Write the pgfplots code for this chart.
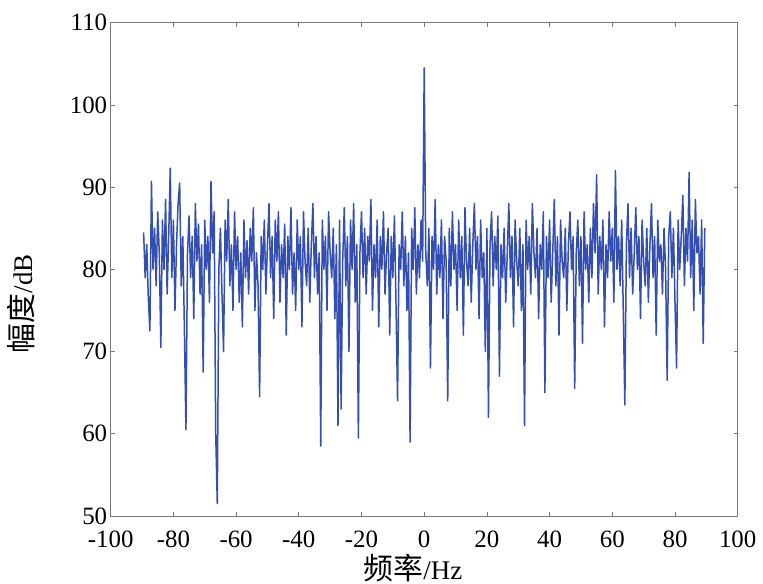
\documentclass[border=0pt]{standalone}
\usepackage{pgfplots}
\pgfplotsset{compat=1.18}
\usepackage{fontspec}
\setmainfont{Liberation Serif}
\newfontfamily\cjk{Noto Sans CJK SC}
\definecolor{lineblue}{RGB}{52,78,178}
\definecolor{framegray}{RGB}{120,120,120}
\begin{document}
\begin{tikzpicture}
\useasboundingbox (-110.7bp,-68bp) rectangle (652.3bp,516bp);
\begin{axis}[
  at={(0,0)}, anchor=south west,
  scale only axis, width=627bp, height=493.3bp,
  xmin=-100, xmax=100, ymin=50, ymax=110,
  xtick={-100,-80,-60,-40,-20,0,20,40,60,80,100},
  xticklabels={-100,-80,-60,-40,-20,0,20,40,60,80,100},
  ytick={50,60,70,80,90,100,110},
  yticklabels={50,60,70,80,90,100,110},
  tick align=inside, major tick length=4bp,
  axis line style={framegray, line width=0.8bp},
  every tick/.style={framegray, line width=0.8bp},
  tick label style={font=\fontsize{25}{25}\selectfont, text=black},
  xticklabel style={yshift=-11bp},
  xlabel={{\fontsize{30}{30}\cjk 频率}{\fontsize{27}{27}\selectfont/Hz}},
  ylabel={{\fontsize{30}{30}\cjk 幅度}{\fontsize{27}{27}\selectfont/dB}},
  xlabel style={at={(axis description cs:0.482,-0.106)}, anchor=center},
  ylabel style={at={(axis description cs:-0.143,0.43)}, anchor=center, rotate=0},
]
\addplot[color=lineblue, line width=1.5bp, mark=none, line join=round] coordinates {
(-89.5,84.5) (-89,79) (-88.5,83) (-88,76.5) (-87.5,72.5) (-87,90.7) (-86.5,80) (-86,85) (-85.5,78) (-85,87)
(-84.5,82) (-84,70.5) (-83.5,86) (-83,80) (-82.5,88.5) (-82,77) (-81.5,84) (-81,92.3) (-80.5,79) (-80,86)
(-79.5,75) (-79,83) (-78.5,88) (-78,90.5) (-77.5,78) (-77,84) (-76.5,73) (-76,60.5) (-75.5,82) (-75,86.5)
(-74.5,79) (-74,84) (-73.5,74) (-73,88) (-72.5,81) (-72,85.5) (-71.5,77) (-71,83) (-70.5,67.5) (-70,86)
(-69.5,80) (-69,84) (-68.5,76) (-68,90.7) (-67.5,82) (-67,87) (-66.5,60) (-66,51.5) (-65.5,80) (-65,85)
(-64.5,77) (-64,70) (-63.5,86) (-63,81) (-62.5,88.5) (-62,78) (-61.5,83) (-61,75) (-60.5,87) (-60,80)
(-59.5,84) (-59,76) (-58.5,82) (-58,73) (-57.5,86) (-57,79) (-56.5,83.5) (-56,77) (-55.5,85) (-55,81)
(-54.5,87.5) (-54,75) (-53.5,82) (-53,78) (-52.5,64.5) (-52,84) (-51.5,80) (-51,86) (-50.5,77) (-50,83)
(-49.5,88) (-49,79) (-48.5,84) (-48,74) (-47.5,86) (-47,81) (-46.5,87) (-46,76) (-45.5,83) (-45,79)
(-44.5,85.5) (-44,72) (-43.5,84) (-43,80) (-42.5,87.5) (-42,77) (-41.5,82) (-41,75) (-40.5,86) (-40,80)
(-39.5,84) (-39,73) (-38.5,87) (-38,81) (-37.5,78) (-37,85) (-36.5,76) (-36,83) (-35.5,88) (-35,79)
(-34.5,84) (-34,77) (-33.5,82) (-33,58.5) (-32.5,86) (-32,80) (-31.5,84) (-31,75) (-30.5,87) (-30,82)
(-29.5,79) (-29,85) (-28.5,74) (-28,83) (-27.5,61) (-27,86) (-26.5,63) (-26,81) (-25.5,87.5) (-25,78)
(-24.5,84) (-24,70) (-23.5,86) (-23,80) (-22.5,88) (-22,76) (-21.5,83) (-21,59.5) (-20.5,82) (-20,87)
(-19.5,79) (-19,85) (-18.5,77) (-18,84) (-17.5,81) (-17,88.5) (-16.5,75) (-16,83) (-15.5,79) (-15,86)
(-14.5,73) (-14,84) (-13.5,80) (-13,87) (-12.5,77) (-12,82) (-11.5,85) (-11,72) (-10.5,84) (-10,79)
(-9.5,86.5) (-9,76) (-8.5,64) (-8,83) (-7.5,80) (-7,87) (-6.5,78) (-6,84) (-5.5,75) (-5,82)
(-4.5,59) (-4,85) (-3.5,80) (-3,87.5) (-2.5,77) (-2,83) (-1.5,79) (-1,86) (-0.5,81) (0,104.5)
(0.5,82) (1,78) (1.5,85) (2,68) (2.5,84) (3,80) (3.5,88.5) (4,77) (4.5,83) (5,79)
(5.5,86) (6,74) (6.5,84) (7,81) (7.5,64) (8,85) (8.5,78) (9,87) (9.5,80) (10,83)
(10.5,75) (11,86) (11.5,79) (12,84) (12.5,72) (13,87.5) (13.5,81) (14,78) (14.5,85) (15,76)
(15.5,83) (16,88) (16.5,80) (17,84) (17.5,74) (18,86) (18.5,79) (19,82) (19.5,70) (20,85)
(20.5,62) (21,83) (21.5,87) (22,78) (22.5,84) (23,80) (23.5,86.5) (24,67) (24.5,83) (25,79)
(25.5,85) (26,76) (26.5,82) (27,88) (27.5,79) (28,84) (28.5,73) (29,86) (29.5,81) (30,78)
(30.5,85) (31,75) (31.5,83) (32,61) (32.5,86) (33,80) (33.5,84) (34,77) (34.5,88) (35,82)
(35.5,79) (36,85) (36.5,74) (37,83) (37.5,80) (38,87) (38.5,65) (39,84) (39.5,79) (40,86)
(40.5,76) (41,82) (41.5,88.5) (42,78) (42.5,84) (43,72) (43.5,86) (44,81) (44.5,79) (45,85)
(45.5,75) (46,83) (46.5,87) (47,80) (47.5,84) (48,65.5) (48.5,82) (49,86) (49.5,78) (50,84)
(50.5,71) (51,87) (51.5,80) (52,83) (52.5,76) (53,85) (53.5,79) (54,88) (54.5,82) (55,91.5)
(55.5,77) (56,84) (56.5,80) (57,86) (57.5,73) (58,83) (58.5,79) (59,87) (59.5,81) (60,85)
(60.5,76) (61,92) (61.5,80) (62,84) (62.5,78) (63,86) (63.5,75) (64,63.5) (64.5,83) (65,88)
(65.5,79) (66,85) (66.5,77) (67,82) (67.5,87.5) (68,80) (68.5,84) (69,74) (69.5,86) (70,81)
(70.5,78) (71,85) (71.5,76) (72,83) (72.5,88) (73,79) (73.5,84) (74,72) (74.5,86) (75,81)
(75.5,83) (76,77) (76.5,85) (77,80) (77.5,66.5) (78,84) (78.5,87) (79,79) (79.5,85) (80,76)
(80.5,68) (81,86) (81.5,80) (82,84) (82.5,89) (83,78) (83.5,85) (84,81) (84.5,91.8) (85,79)
(85.5,86) (86,75) (86.5,88.5) (87,82) (87.5,84) (88,77) (88.5,86) (89,71) (89.5,85)
};
\end{axis}
\end{tikzpicture}
\end{document}
